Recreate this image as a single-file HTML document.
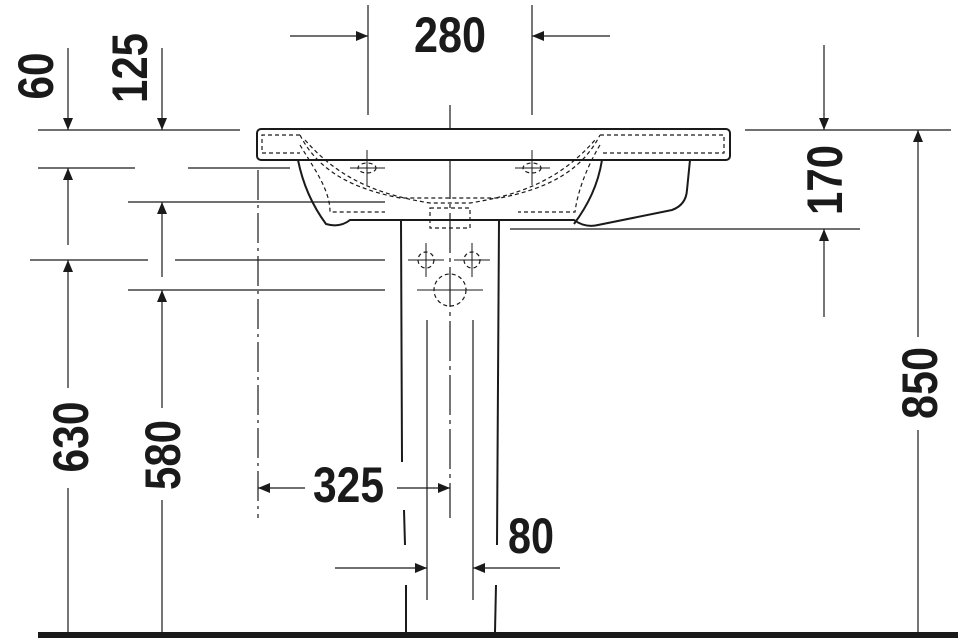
<!DOCTYPE html>
<html><head><meta charset="utf-8"><style>
html,body{margin:0;padding:0;background:#fff}
svg{display:block}
text{font-family:"Liberation Sans",sans-serif;font-weight:bold;fill:#1a1a1a;font-size:50px}
</style></head><body>
<svg width="958" height="642" viewBox="0 0 958 642" xmlns="http://www.w3.org/2000/svg">
<defs>
<marker id="a" viewBox="0 0 12 10" refX="12" refY="5" markerWidth="12" markerHeight="10" markerUnits="userSpaceOnUse" orient="auto"><path d="M0,0 L12,5 L0,10 z" fill="#1a1a1a"/></marker>
</defs>
<g stroke="#1a1a1a" stroke-width="1.2" fill="none">
<!-- 280 -->
<line x1="368" y1="5" x2="368" y2="115"/><line x1="532" y1="5" x2="532" y2="115"/>
<line x1="290" y1="36" x2="368" y2="36" marker-end="url(#a)"/>
<line x1="610" y1="36" x2="532" y2="36" marker-end="url(#a)"/>
<!-- left horizontals -->
<line x1="38" y1="130" x2="240" y2="130"/>
<line x1="38" y1="168" x2="135" y2="168"/><line x1="188" y1="168" x2="290" y2="168"/>
<line x1="128" y1="202" x2="385" y2="202"/>
<line x1="30" y1="260" x2="148" y2="260"/><line x1="175" y1="260" x2="385" y2="260"/>
<line x1="128" y1="290" x2="385" y2="290"/>
<!-- 60 / 630 -->
<line x1="68" y1="48" x2="68" y2="130" marker-end="url(#a)"/>
<line x1="68" y1="245" x2="68" y2="168" marker-end="url(#a)"/>
<line x1="68" y1="388" x2="68" y2="260" marker-end="url(#a)"/>
<line x1="68" y1="488" x2="68" y2="632"/>
<!-- 125 / 580 -->
<line x1="162" y1="48" x2="162" y2="130" marker-end="url(#a)"/>
<line x1="162" y1="277" x2="162" y2="202" marker-end="url(#a)"/>
<line x1="162" y1="408" x2="162" y2="290" marker-end="url(#a)"/>
<line x1="162" y1="500" x2="162" y2="632"/>
<!-- right -->
<line x1="745" y1="130" x2="951" y2="130"/>
<line x1="510" y1="229" x2="860" y2="229"/>
<line x1="824" y1="45" x2="824" y2="130" marker-end="url(#a)"/>
<line x1="824" y1="317" x2="824" y2="229" marker-end="url(#a)"/>
<line x1="918" y1="337" x2="918" y2="130" marker-end="url(#a)"/>
<line x1="918" y1="430" x2="918" y2="632"/>
<!-- dashdot lines -->
<line x1="258" y1="170" x2="258" y2="518" stroke-dasharray="30,5,3,5"/>
<line x1="450" y1="105" x2="450" y2="518" stroke-dasharray="40,5,4,5"/>
<!-- 325 -->
<line x1="305" y1="488" x2="258" y2="488" marker-end="url(#a)"/>
<line x1="397" y1="488" x2="450" y2="488" marker-end="url(#a)"/>
<!-- 80 -->
<line x1="427" y1="320" x2="427" y2="600"/><line x1="473" y1="320" x2="473" y2="600"/>
<line x1="335" y1="568" x2="427" y2="568" marker-end="url(#a)"/>
<line x1="560" y1="568" x2="473" y2="568" marker-end="url(#a)"/>
</g>
<!-- basin -->
<g stroke="#1a1a1a" stroke-width="2" fill="#fff">
<path d="M298,160 C303,185 312,205 326,224 Q340,228 350,220 L574,220 Q585,228 598,225 L672,210 Q686,205 687,190 L690,160 Z" fill="none"/>
<path d="M602,160 C598,185 588,205 574,224" fill="none"/>
<rect x="257" y="129" width="473" height="31" rx="4"/>
<path d="M401,220 L402,462 M404,510 L405,545 M406,585 L406,632" fill="none"/>
<path d="M499,220 L497,545 M496,585 L495,632" fill="none"/>
</g>
<g stroke="#1a1a1a" stroke-width="1.2" fill="none" stroke-dasharray="4,3">
<path d="M300,135 L262,135 L262,153 L300,153"/>
<path d="M600,135 L724,135 L724,153 L600,153"/>
<path d="M300,135 C320,175 360,190 400,198 L500,198 C540,190 580,175 600,135"/>
<path d="M300,145 C315,170 330,190 330,212 L385,212"/>
<path d="M305,140 C340,180 380,195 430,203 L470,203 C520,195 560,180 595,140"/>
<path d="M600,145 C585,170 577,195 575,212 L518,212"/>
<rect x="430" y="208" width="40" height="20"/>
<ellipse cx="367" cy="168" rx="9" ry="5"/><ellipse cx="532" cy="168" rx="9" ry="5"/>
<circle cx="426" cy="260" r="8"/><circle cx="472" cy="260" r="8"/>
<circle cx="450" cy="290" r="16"/>
</g>
<g stroke="#1a1a1a" stroke-width="1">
<line x1="350" y1="168" x2="385" y2="168"/><line x1="367" y1="150" x2="367" y2="185"/>
<line x1="515" y1="168" x2="550" y2="168"/><line x1="532" y1="150" x2="532" y2="185"/>
<line x1="408" y1="260" x2="444" y2="260"/><line x1="426" y1="243" x2="426" y2="277"/>
<line x1="454" y1="260" x2="490" y2="260"/><line x1="472" y1="243" x2="472" y2="277"/>
<line x1="417" y1="290" x2="483" y2="290"/>
</g>
<rect x="38" y="632" width="920" height="6" fill="#1a1a1a"/>
<!-- text -->
<text x="414" y="52" textLength="72" lengthAdjust="spacingAndGlyphs">280</text>
<text x="313" y="502" textLength="71" lengthAdjust="spacingAndGlyphs">325</text>
<text x="508" y="553" textLength="46" lengthAdjust="spacingAndGlyphs">80</text>
<text transform="translate(53,76) rotate(-90)" text-anchor="middle" textLength="47" lengthAdjust="spacingAndGlyphs">60</text>
<text transform="translate(147,68) rotate(-90)" text-anchor="middle" textLength="70" lengthAdjust="spacingAndGlyphs">125</text>
<text transform="translate(88,437) rotate(-90)" text-anchor="middle" textLength="71" lengthAdjust="spacingAndGlyphs">630</text>
<text transform="translate(180,455) rotate(-90)" text-anchor="middle" textLength="70" lengthAdjust="spacingAndGlyphs">580</text>
<text transform="translate(842,180) rotate(-90)" text-anchor="middle" textLength="70" lengthAdjust="spacingAndGlyphs">170</text>
<text transform="translate(937,383) rotate(-90)" text-anchor="middle" textLength="72" lengthAdjust="spacingAndGlyphs">850</text>
</svg>
</body></html>
